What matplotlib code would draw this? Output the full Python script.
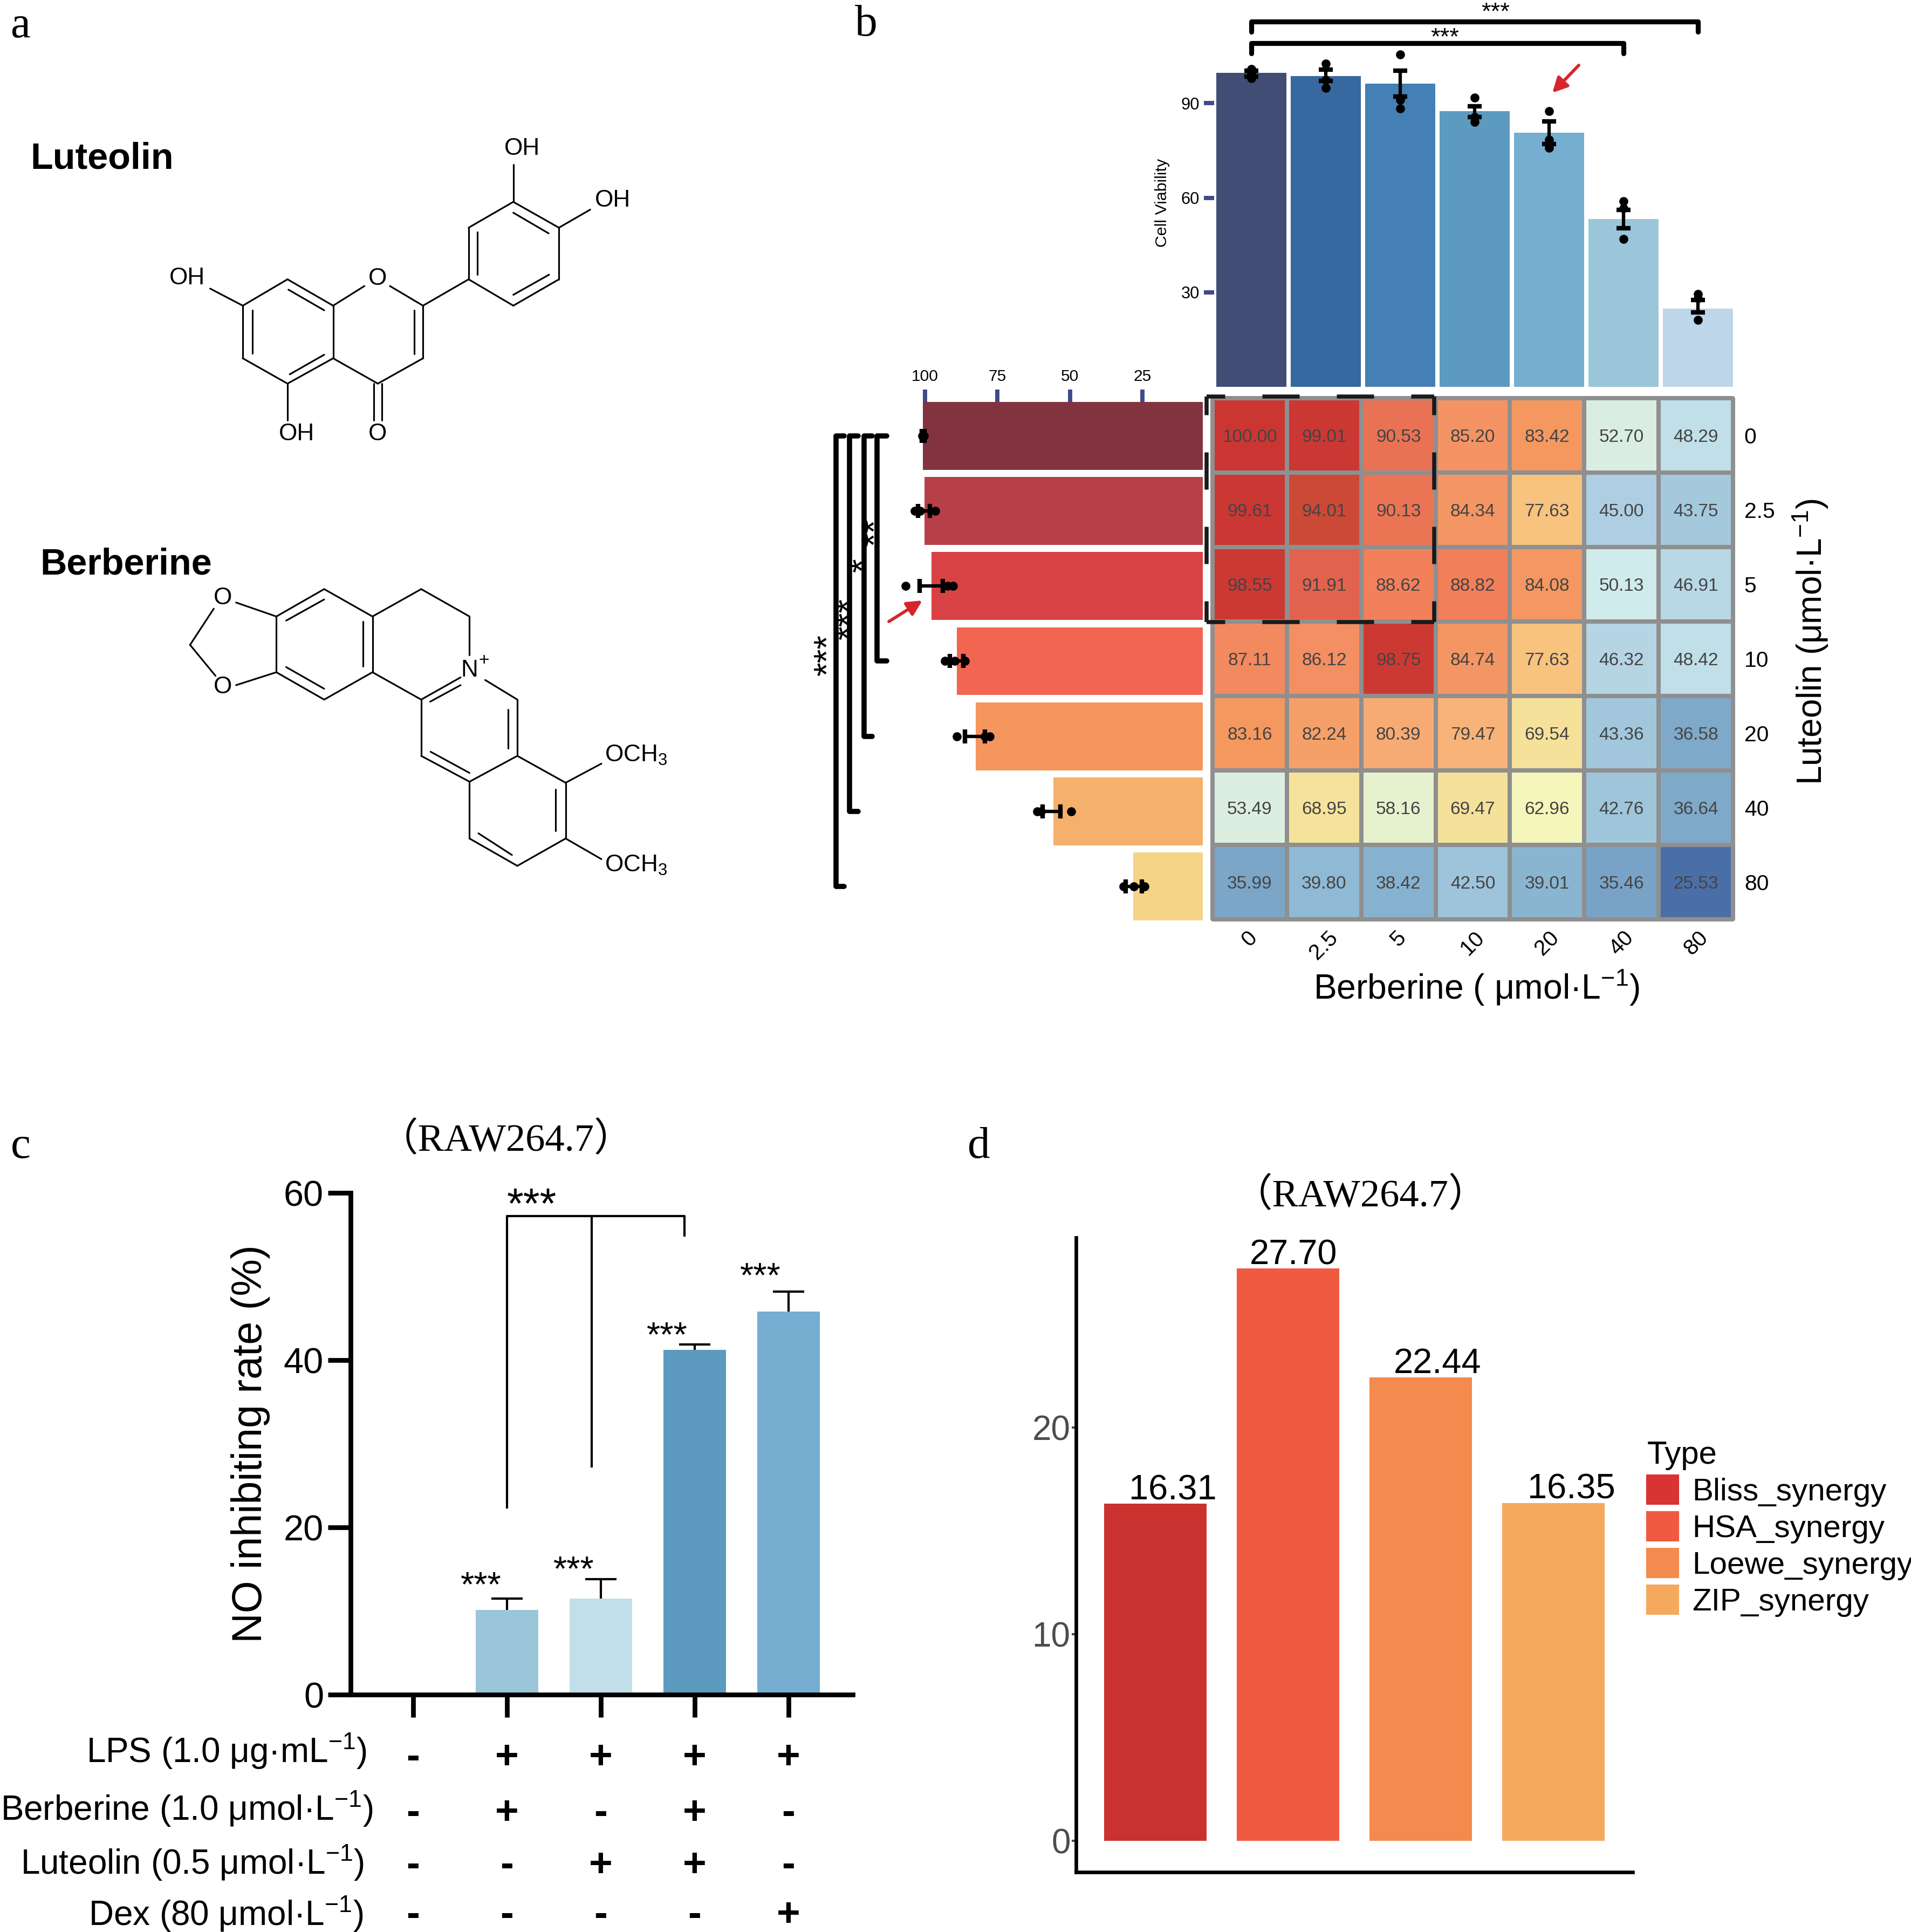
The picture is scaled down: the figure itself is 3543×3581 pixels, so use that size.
import matplotlib
matplotlib.use('Agg')
import matplotlib.pyplot as plt
from matplotlib.colors import LinearSegmentedColormap, Normalize
from matplotlib.patches import Patch
from matplotlib.transforms import blended_transform_factory
import numpy as np

plt.rcParams['font.family'] = ['Liberation Sans', 'DejaVu Sans']
plt.rcParams['mathtext.fontset'] = 'custom'
plt.rcParams['mathtext.rm'] = 'Liberation Sans'
plt.rcParams['mathtext.default'] = 'regular'

W, H = 3543, 3581
PT = 72 / 300  # one image pixel in points
SERIF = ['Liberation Serif', 'Noto Sans CJK SC', 'DejaVu Serif']

# panel b
doses = ['0', '2.5', '5', '10', '20', '40', '80']
viability = [
    [100.00, 99.01, 90.53, 85.20, 83.42, 52.70, 48.29],
    [99.61, 94.01, 90.13, 84.34, 77.63, 45.00, 43.75],
    [98.55, 91.91, 88.62, 88.82, 84.08, 50.13, 46.91],
    [87.11, 86.12, 98.75, 84.74, 77.63, 46.32, 48.42],
    [83.16, 82.24, 80.39, 79.47, 69.54, 43.36, 36.58],
    [53.49, 68.95, 58.16, 69.47, 62.96, 42.76, 36.64],
    [35.99, 39.80, 38.42, 42.50, 39.01, 35.46, 25.53],
]
ber_means = [99.6, 98.7, 96.3, 87.5, 80.6, 53.2, 24.8]
ber_lo = [98.5, 97.1, 92.2, 85.7, 77.1, 50.3, 23.7]
ber_hi = [100.4, 100.6, 100.4, 89.1, 84.2, 56.2, 27.5]
ber_points = [
    [100.9, 99.6, 97.9], [102.6, 97.4, 94.9], [105.5, 91.1, 88.4],
    [91.7, 85.7, 84.0], [87.5, 78.5, 75.8], [58.9, 56.7, 46.9], [29.4, 28.0, 21.2],
]
lut_means = [100.7, 100.2, 97.8, 89.1, 82.5, 55.8, 28.2]
lut_lo = [100.2, 98.3, 93.9, 86.7, 79.4, 53.2, 25.2]
lut_hi = [101.2, 102.4, 101.9, 91.5, 86.2, 59.5, 30.8]
lut_points = [
    [100.7, 100.4, 101.0], [103.6, 101.7, 96.4], [106.8, 92.2, 90.3],
    [93.2, 89.8, 86.2], [89.1, 79.4, 77.7], [61.2, 60.0, 49.5], [31.6, 27.9, 24.3],
]
ber_colors = ['#414d75', '#37689f', '#4480b3', '#5d9abf', '#75aed0', '#9bc6d9', '#bdd6e9']
lut_colors = ['#833340', '#b73f48', '#d94244', '#f26550', '#f5965e', '#f5b06b', '#f5d488']
heat_nodes = [
    (25.5, '#4a6fa8'), (36.6, '#7ea9c9'), (39.8, '#8fb9d4'), (43.5, '#a3c8dc'),
    (45.0, '#aecfe3'), (48.3, '#c0dfe8'), (50.1, '#d0ebec'), (53.0, '#dbede2'),
    (58.2, '#e6f2cd'), (63.0, '#f4f6bb'), (69.5, '#f5e19a'), (77.6, '#f8c480'),
    (80.4, '#f6ab75'), (83.4, '#f4985f'), (85.2, '#f49565'), (88.7, '#f2805b'),
    (90.5, '#ea7355'), (91.9, '#e36651'), (94.0, '#cc4a36'), (98.0, '#cc3b33'),
    (100.0, '#cb3633'),
]

# panel c
no_means = [0, 10.1, 11.5, 41.2, 45.8]
no_tops = [0, 11.5, 13.8, 41.9, 48.2]
no_colors = ['#ffffff', '#9bc6d9', '#c1dfe9', '#5c9abf', '#75aed0']
treat_labels = ['LPS (1.0 μg·mL$^{-1}$)', 'Berberine (1.0 μmol·L$^{-1}$)',
                'Luteolin (0.5 μmol·L$^{-1}$)', 'Dex (80 μmol·L$^{-1}$)']
treat_marks = [list('-++++'), list('-+-+-'), list('--++-'), list('----+')]

# panel d
syn_names = ['Bliss_synergy', 'HSA_synergy', 'Loewe_synergy', 'ZIP_synergy']
syn_values = [16.31, 27.70, 22.44, 16.35]
syn_colors = ['#ca3230', '#f05a40', '#f58a4e', '#f5a95d']
legend_colors = ['#d93333', '#f05a40', '#f58a4e', '#f5a95d']

# panel a, bond ends
lut_bonds = [
    (643,332,745,383),(745,383,745,485),(745,485,643,534),(643,534,543,485),(543,485,543,383),(543,383,643,332),
    (645,352,725,392),(565,392,565,475),(725,478,648,516),
    (745,383,815,345),(872,345,946,383),(946,383,946,485),(946,485,845,534),(845,534,745,485),
    (926,392,926,476),(836,534,836,605),(854,534,854,605),(946,383,1048,332),
    (1048,332,1048,232),(1048,232,1148,182),(1148,182,1250,232),(1250,232,1250,332),(1250,332,1148,383),(1148,383,1048,332),
    (1068,240,1068,323),(1148,203,1227,243),(1228,323,1148,362),
    (470,350,543,383),(643,534,643,605),(1148,110,1148,182),(1250,232,1320,197),
]
ber_bonds = [
    (618,985,725,932),(725,932,833,985),(833,985,833,1093),(833,1093,725,1146),(725,1146,618,1093),(618,1093,618,985),
    (640,993,725,952),(812,995,812,1082),(725,1125,640,1083),
    (618,985,528,958),(618,1093,528,1118),(425,1040,478,970),(425,1040,482,1100),
    (833,985,942,932),(942,932,1050,985),(1050,985,1050,1060),
    (833,1093,942,1146),(942,1146,1030,1103),(962,1150,1030,1118),
    (1085,1108,1157,1146),(1157,1146,1157,1255),(1136,1165,1136,1240),
    (942,1146,942,1255),(942,1255,1050,1305),(963,1247,1050,1288),(1050,1305,1157,1255),
    (1157,1255,1265,1307),(1265,1307,1265,1415),(1243,1320,1243,1400),(1265,1415,1157,1468),
    (1157,1468,1050,1415),(1145,1447,1070,1405),(1050,1415,1050,1305),
    (1265,1307,1345,1270),(1265,1415,1345,1455),
]
lut_atoms = [('OH',418,325),('OH',663,628),('OH',1168,75),('OH',1370,175),('O',845,327),('O',845,628)]
ber_atoms = [('O',498,945),('O',498,1118),('N',1050,1085)]


def px_axes(x0, y0, x1, y1):
    ax = fig.add_axes([x0 / W, 1 - y1 / H, (x1 - x0) / W, (y1 - y0) / H])
    ax.patch.set_alpha(0)
    return ax


def stars(cx, cy, s, size_px, rot=0):
    # asterisks sit high in the em box, so anchor on the baseline
    off = 0.47 * size_px
    if rot:
        over.text(cx + off, cy, s, fontsize=size_px * PT, rotation=90, ha='center', va='baseline',
                  rotation_mode='anchor')
    else:
        over.text(cx, cy + off, s, fontsize=size_px * PT, ha='center', va='baseline')


fig = plt.figure(figsize=(W / 300, H / 300), dpi=300)
over = fig.add_axes([0, 0, 1, 1], zorder=5)
over.set_xlim(0, W)
over.set_ylim(H, 0)
over.axis('off')
over.patch.set_alpha(0)

for letter, x, y in [('a', 38, 49), ('b', 1606, 46), ('c', 38, 2126), ('d', 1815, 2126)]:
    over.text(x, y, letter, family=SERIF, fontsize=20, ha='center', va='center')


# panel a
def zx(x):
    return x * 0.829


def zy(y):
    return y * 0.957 + 200


for bonds in (lut_bonds, ber_bonds):
    for x0, y0, x1, y1 in bonds:
        over.plot([zx(x0), zx(x1)], [zy(y0), zy(y1)], color='black', lw=0.75, solid_capstyle='round')
for name, x, y in lut_atoms + ber_atoms:
    over.text(zx(x), zy(y) + 4, name, fontsize=10.6, ha='center', va='center')
over.text(zx(1082), zy(1066) + 4, '+', fontsize=8, ha='center', va='center')
over.text(zx(1352), zy(1250) + 4, 'OCH$_3$', fontsize=10.6, ha='left', va='center')
over.text(zx(1352), zy(1463) + 4, 'OCH$_3$', fontsize=10.6, ha='left', va='center')
over.text(zx(68), zy(95) + 4, 'Luteolin', fontsize=16.4, fontweight='bold', ha='left', va='center')
over.text(zx(90), zy(880) + 4, 'Berberine', fontsize=16.4, fontweight='bold', ha='left', va='center')

# panel b, top bars
ax_top = px_axes(2251, 0, 3217, 717)
ax_top.set_xlim(-0.5, 6.5)
ax_top.set_ylim(0, 717 / 5.84)
x = np.arange(7)
ax_top.bar(x, ber_means, width=0.94, color=ber_colors)
ax_top.errorbar(x, ber_means, yerr=[np.subtract(ber_means, ber_lo), np.subtract(ber_hi, ber_means)],
                fmt='none', ecolor='black', elinewidth=1.5, capsize=3.2, capthick=2)
for i, pts in enumerate(ber_points):
    ax_top.scatter([i] * len(pts), pts, s=16, color='black', linewidths=0, zorder=4, clip_on=False)
for sp in ax_top.spines.values():
    sp.set_visible(False)
ax_top.set_xticks([])
ax_top.set_yticks([30, 60, 90])
ax_top.tick_params(axis='y', length=4.5, width=1.9, color='#3e4a89', labelsize=7.4, pad=2)
over.text(2155, 376, 'Cell Viability', fontsize=7.3, rotation=90, ha='center', va='center')
for top, drop, last in [(115.9, 112.7, 6), (109.1, 105.8, 5)]:
    ax_top.plot([0, 0, last, last], [drop, top, top, drop], color='black', lw=2.2, clip_on=False,
                solid_capstyle='round', solid_joinstyle='round')
stars(2773, 14, '***', 45)
stars(2679, 61, '***', 45)
over.annotate('', xy=(2878, 172), xytext=(2927, 121),
              arrowprops=dict(arrowstyle='-|>,head_length=0.55,head_width=0.28', color='#d7262b', lw=1.4,
                              shrinkA=0, shrinkB=0))

# panel b, left bars
ax_left = px_axes(1527, 745, 2230, 1706)
ax_left.set_xlim(135, 4.15)
ax_left.set_ylim(6.453, -0.4527)
y = np.arange(7)
ax_left.barh(y, lut_means, height=0.905, color=lut_colors)
ax_left.errorbar(lut_means, y, xerr=[np.abs(np.subtract(lut_means, lut_lo)), np.abs(np.subtract(lut_hi, lut_means))],
                 fmt='none', ecolor='black', elinewidth=1.5, capsize=3.2, capthick=2)
for i, pts in enumerate(lut_points):
    ax_left.scatter(pts, [i] * len(pts), s=16, color='black', linewidths=0, zorder=4, clip_on=False)
for sp in ax_left.spines.values():
    sp.set_visible(False)
ax_left.xaxis.tick_top()
ax_left.set_xticks([100, 75, 50, 25])
ax_left.set_yticks([])
ax_left.tick_params(axis='x', length=5.5, width=1.9, color='#3e4a89', labelsize=7.2, pad=2.5)
for vx, stub, row in [(116.5, 113.3, 3), (121.1, 118.2, 4), (126.0, 123.0, 5), (130.8, 127.9, 6)]:
    ax_left.plot([stub, vx, vx, stub], [0, 0, row, row], color='black', lw=2.3, clip_on=False,
                 solid_capstyle='round', solid_joinstyle='round')
stars(1611, 986, '**', 66, rot=90)
stars(1589, 1047, '*', 66, rot=90)
stars(1563, 1147, '***', 66, rot=90)
stars(1523, 1214, '***', 66, rot=90)
over.annotate('', xy=(1710, 1113), xytext=(1648, 1152),
              arrowprops=dict(arrowstyle='-|>,head_length=0.55,head_width=0.28', color='#d7262b', lw=1.4,
                              shrinkA=0, shrinkB=0))

# panel b, heatmap
ax_heat = px_axes(2248, 738, 3213, 1704)
lo, hi = heat_nodes[0][0], heat_nodes[-1][0]
cmap = LinearSegmentedColormap.from_list('viab', [((v - lo) / (hi - lo), c) for v, c in heat_nodes])
edges = np.arange(8) - 0.5
ax_heat.pcolormesh(edges, edges, np.array(viability), cmap=cmap, norm=Normalize(lo, hi),
                   edgecolors='#8f8f8f', linewidth=1.5, clip_on=False)
ax_heat.set_xlim(-0.5, 6.5)
ax_heat.set_ylim(6.5, -0.5)
for r, row in enumerate(viability):
    for c, v in enumerate(row):
        ax_heat.text(c, r + 0.025, f'{v:.2f}', fontsize=8, color='#444444', ha='center', va='center')
for sp in ax_heat.spines.values():
    sp.set_visible(False)
ax_heat.set_xticks(x)
ax_heat.set_xticklabels(doses, rotation=45, fontsize=9.8, ha='center')
ax_heat.set_yticks(y)
ax_heat.set_yticklabels(doses, fontsize=9.8, ha='left')
ax_heat.yaxis.tick_right()
ax_heat.tick_params(axis='both', length=0)
ax_heat.tick_params(axis='x', pad=3.5)
ax_heat.tick_params(axis='y', pad=5)
# dashed box round the low-dose block
for xs, ys in [([-0.58, 2.48], [-0.52, -0.52]), ([-0.58, 2.48], [2.51, 2.51]),
               ([-0.58, -0.58], [-0.52, 2.51]), ([2.48, 2.48], [-0.52, 2.51])]:
    ax_heat.plot(xs, ys, color='#1a1a1a', lw=1.8, clip_on=False, linestyle=(4.6, (9.2, 9.2)),
                 dash_capstyle='butt')
over.text(2738, 1831, 'Berberine ( μmol·L$^{-1}$)', fontsize=15.4, ha='center', va='center')
over.text(3357, 1190, 'Luteolin (μmol·L$^{-1}$)', fontsize=15.3, rotation=90, ha='center', va='center')

# panel c
ax_c = px_axes(650, 2211, 1581, 3141)
ax_c.set_xlim(-0.667, 4.684)
ax_c.set_ylim(0, 60)
xc = np.arange(5)
ax_c.bar(xc, no_means, width=0.667, color=no_colors)
_, caps, _ = ax_c.errorbar(xc[1:], no_means[1:], yerr=[np.zeros(4), np.subtract(no_tops, no_means)[1:]],
                           fmt='none', ecolor='black', elinewidth=1.0, capsize=7, capthick=1.0)
caps[0].set_visible(False)
ax_c.spines[['top', 'right']].set_visible(False)
ax_c.spines[['left', 'bottom']].set_linewidth(2.1)
ax_c.set_xticks(xc)
ax_c.set_xticklabels([])
ax_c.set_yticks([0, 20, 40, 60])
ax_c.tick_params(axis='both', length=10, width=2.1, labelsize=16, pad=2)
ax_c.set_ylabel('NO inhibiting rate (%)', fontsize=18.5, labelpad=6)
ax_c.plot([1, 1, 2.89, 2.89], [22.4, 57.2, 57.2, 54.9], color='black', lw=1.0, clip_on=False)
ax_c.plot([1.9, 1.9], [27.3, 57.2], color='black', lw=1.0)
stars(986, 2221, '***', 79)
stars(892, 2928, '***', 65)
stars(1064, 2899, '***', 65)
stars(1237, 2465, '***', 65)
stars(1410, 2355, '***', 65)
over.text(938, 2113, '（RAW264.7）', family=SERIF, fontsize=17.4, ha='center', va='center')
mark_tf = blended_transform_factory(ax_c.transData, over.transData)
for label, marks, lx, ly, my in zip(treat_labels, treat_marks, [680, 691, 675, 673], [3246, 3353, 3453, 3548],
                                    [3278, 3381, 3478, 3570]):
    over.text(lx, ly, label, fontsize=15.3, ha='right', va='center')
    for i, m in enumerate(marks):
        over.text(i, my, m, transform=mark_tf, fontsize=18, fontweight='bold', ha='center', va='baseline')

# panel d
ax_d = px_axes(1995, 2294, 3027, 3470)
ax_d.set_xlim(-0.598, 3.598)
ax_d.set_ylim(-1.514, 29.19)
xd = np.arange(4)
ax_d.bar(xd, syn_values, width=0.772, color=syn_colors)
for i, (v, dx) in enumerate(zip(syn_values, [32, 10, 31, 33])):
    ax_d.annotate(f'{v:.2f}', (i, v), xytext=(dx * PT, -1.2), textcoords='offset points', fontsize=15.6,
                  ha='center', va='bottom')
ax_d.spines[['top', 'right']].set_visible(False)
ax_d.spines[['left', 'bottom']].set_linewidth(1.6)
ax_d.set_xticks([])
ax_d.set_yticks([0, 10, 20])
ax_d.tick_params(axis='y', length=2, width=1, color='#4d4d4d', labelcolor='#4d4d4d', labelsize=15.3, pad=0.5)
over.text(2522, 2216, '（RAW264.7）', family=SERIF, fontsize=17.4, ha='center', va='center')
fig.legend(handles=[Patch(color=c, label=n) for c, n in zip(legend_colors, syn_names)], title='Type',
           loc='upper left', bbox_to_anchor=(3054 / W, 1 - 2670 / H), frameon=False, fontsize=14,
           title_fontsize=14.4, handlelength=0.98, handleheight=1.0, handletextpad=0.45, labelspacing=0.17,
           alignment='left', borderpad=0, borderaxespad=0)

fig.savefig('out.png', dpi=300)
